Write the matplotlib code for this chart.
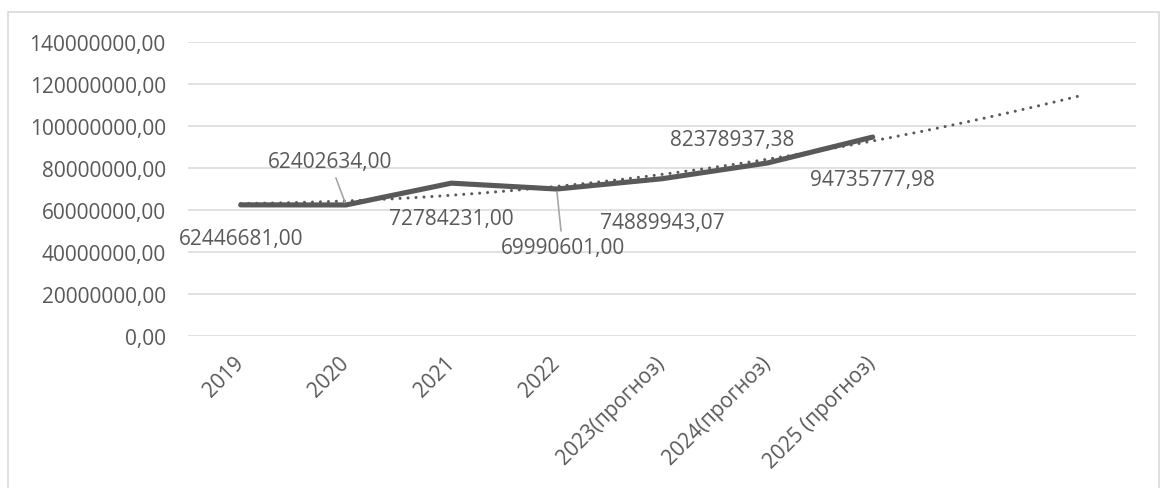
import numpy as np
from matplotlib import pyplot as plt
from matplotlib.patches import Rectangle

years = ['2019', '2020', '2021', '2022', '2023(прогноз)', '2024(прогноз)', '2025 (прогноз)']
values = np.array([62446681.00, 62402634.00, 72784231.00, 69990601.00,
                   74889943.07, 82378937.38, 94735777.98])

# label offsets in pixels from each point, and whether a leader line is drawn
label_dx = [0, -16, 0, 6, 0, -35, 0]
label_dy = [-34, 43, -35, -58, -44, 24, -42]
leader = [False, True, False, True, False, False, False]

grey = '#595959'
plt.rcParams['font.family'] = ['Open Sans', 'DejaVu Sans']


def fmt(v):
    return f'{v:.2f}'.replace('.', ',')


fig = plt.figure(figsize=(11.67, 4.89), dpi=100)
ax = fig.add_axes([188 / 1167, 1 - 337 / 489, (1136 - 188) / 1167, (337 - 43) / 489])

x = np.arange(len(values))
ax.plot(x, values, color=grey, lw=3.7, solid_capstyle='round', solid_joinstyle='round', zorder=3)

# polynomial (2nd order) trend, extended two periods forward
coef = np.polyfit(x, values, 2)
xt = np.linspace(0, len(values) + 1, 200)
ax.plot(xt, np.polyval(coef, xt), color=grey, lw=2.2, linestyle=(0, (0.01, 2.6)),
        dash_capstyle='round', zorder=4)

for i, v in enumerate(values):
    kw = {}
    if leader[i]:
        kw['arrowprops'] = dict(arrowstyle='-', color='#a6a6a6', lw=1.2, shrinkA=2, shrinkB=2)
    ax.annotate(fmt(v), (i, v), xytext=(label_dx[i], label_dy[i]), textcoords='offset pixels',
                ha='center', va='center', fontsize=15, color=grey, zorder=5, **kw)

ax.set_xlim(-0.5, len(values) + 1.5)
ax.set_ylim(0, 140000000)
ax.set_yticks(np.arange(0, 140000001, 20000000))
ax.set_yticklabels([fmt(t) for t in ax.get_yticks()])
ax.set_xticks(x)
ax.set_xticklabels(years, rotation=45, ha='right', va='center', rotation_mode='anchor')
ax.tick_params(length=0, labelsize=15, labelcolor=grey)
ax.tick_params(axis='y', pad=16)
ax.tick_params(axis='x', pad=17)
ax.grid(axis='y', color='#d9d9d9', lw=1.1)
ax.set_axisbelow(True)
for s in ax.spines.values():
    s.set_visible(False)

fig.patches.append(Rectangle((8 / 1167, -0.05), (1159 - 8) / 1167, 1.05 - 13 / 489,
                             transform=fig.transFigure, fill=False, edgecolor='#d9d9d9', lw=1.2))

fig.savefig('out.png', dpi=100)
